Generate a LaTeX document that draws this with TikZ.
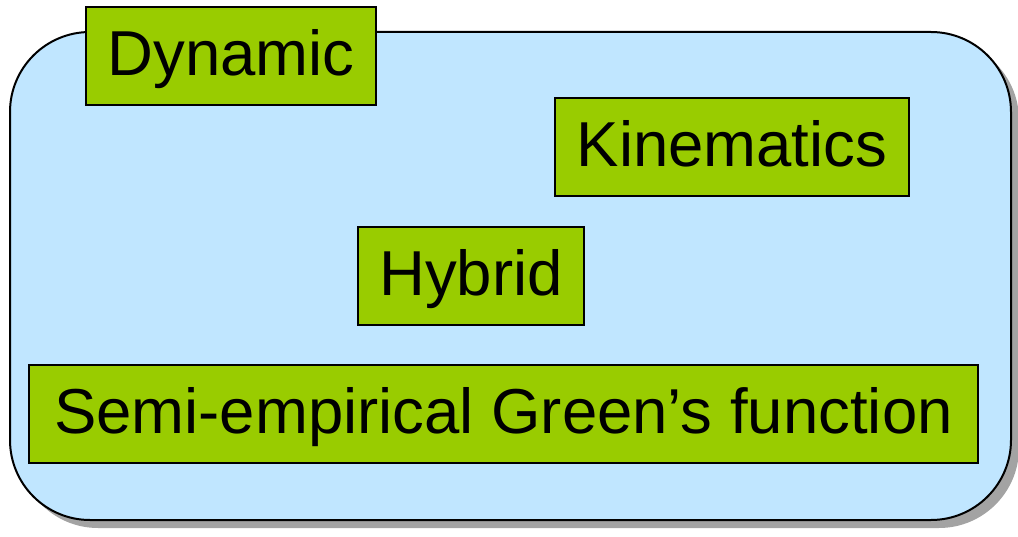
\documentclass[tikz,border=0pt]{standalone}
\usepackage{fontspec}
\setmainfont{Liberation Sans}
\definecolor{panelblue}{HTML}{C0E6FF}
\definecolor{taggreen}{HTML}{99CC00}
\definecolor{panelshade}{HTML}{A3A3A3}
\begin{document}
\begin{tikzpicture}[x=1pt,y=-1pt,
  tag/.style={draw=black, line width=1.6pt, fill=taggreen, inner sep=0pt,
    text=black, font=\fontsize{63.5}{70}\selectfont,
    text height=50pt, text depth=11pt}]
\useasboundingbox (0,0) rectangle (1018,537);
% panel with drop shadow
\fill[panelshade, rounded corners=80pt] (18,40) rectangle (1019,528);
\draw[fill=panelblue, line width=2pt, rounded corners=80pt] (10,32) rectangle (1011,520);
% category tags
\node[tag, minimum width=290pt, minimum height=98pt] (dyn) at (231,56) {Dynamic};
\node[tag, minimum width=354pt, minimum height=98pt] (kin) at (732,147) {Kinematics};
\node[tag, minimum width=226pt, minimum height=98pt] (hyb) at (471,276) {Hybrid};
\node[tag, minimum width=949pt, minimum height=98pt] (seg) at (503.5,414) {Semi-empirical Green’s function};
\end{tikzpicture}
\end{document}
